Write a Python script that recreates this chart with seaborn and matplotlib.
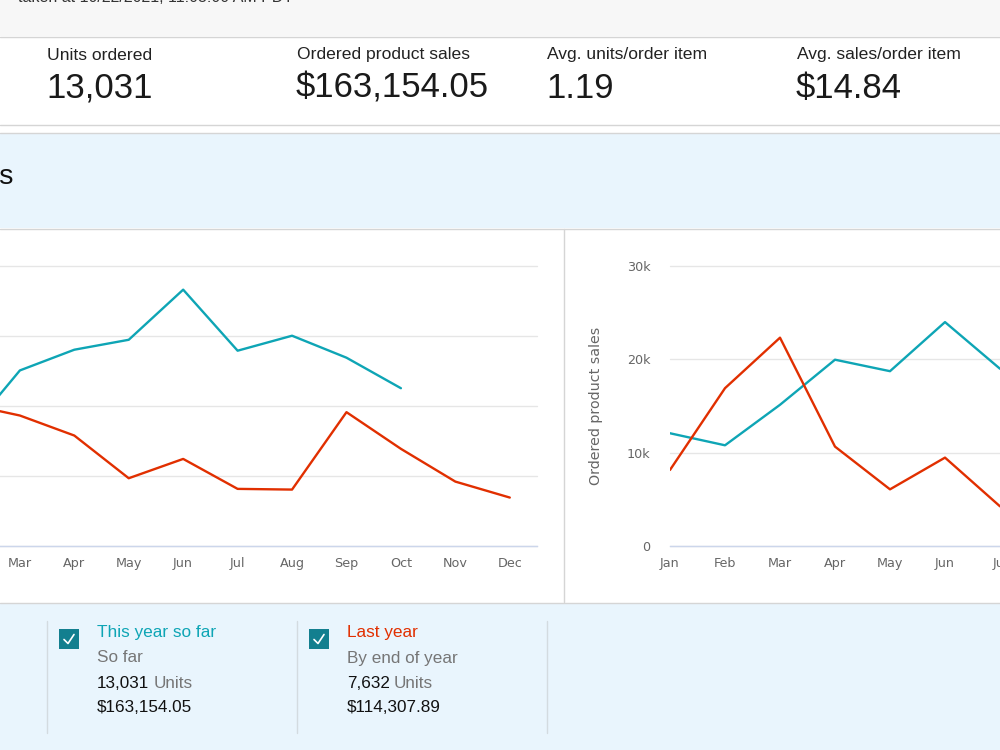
import numpy as np
import pandas as pd
import matplotlib
matplotlib.use("Agg")
import matplotlib.pyplot as plt
import seaborn as sns
from matplotlib.patches import Rectangle

# ---- data ----
months = ['Jan', 'Feb', 'Mar', 'Apr', 'May', 'Jun', 'Jul', 'Aug', 'Sep', 'Oct', 'Nov', 'Dec']

# left chart: units ordered per month
units_this_year = [916, 786, 1254, 1402, 1473, 1831, 1395, 1502, 1345, 1127]
units_last_year = [522, 1016, 932, 789, 484, 622, 408, 403, 956, 694, 460, 346]
units_ticks = [0, 500, 1000, 1500, 2000]

# right chart: ordered product sales per month (only Jan-Jul visible)
sales_this_year = [12080, 10790, 15130, 19960, 18730, 23990, 18990]
sales_last_year = [8150, 16910, 22320, 10650, 6070, 9470, 4250]
sales_ticks = [0, 10000, 20000, 30000]
sales_tick_labels = ['0', '10k', '20k', '30k']

metric_labels = ['Units ordered', 'Ordered product sales', 'Avg. units/order item', 'Avg. sales/order item']
metric_values = ['13,031', '$163,154.05', '1.19', '$14.84']

series_names = ['This year so far', 'Last year']
series_sub = ['So far', 'By end of year']
series_units = ['13,031', '7,632']
series_sales = ['$163,154.05', '$114,307.89']

TEAL = '#0ea5b5'
RED = '#e12f00'
palette = {'This year so far': TEAL, 'Last year': RED}

sns.set_theme(style="white")
plt.rcParams['font.family'] = ['Liberation Sans', 'DejaVu Sans']

fig = plt.figure(figsize=(10, 7.5), dpi=100)
fig.patch.set_facecolor('white')

# ---- page background (pixel coordinates) ----
bg = fig.add_axes([0, 0, 1, 1], zorder=0)
bg.set_xlim(0, 1000)
bg.set_ylim(750, 0)
bg.axis('off')

LINE = '#d5d5d5'
BLUE = '#e9f5fd'
bg.add_patch(Rectangle((0, 0), 1000, 36, color='#f7f7f7', lw=0))
bg.add_patch(Rectangle((0, 133), 1000, 95, color=BLUE, lw=0))
bg.add_patch(Rectangle((0, 603), 1000, 147, color=BLUE, lw=0))
for yy in [36.5, 124.5, 132.5, 228.5, 602.5]:
    bg.plot([0, 1000], [yy, yy], color=LINE, lw=1)
bg.plot([563.5, 563.5], [229, 602], color=LINE, lw=1)

# clipped header line at the very top
bg.text(18, 2.5, 'taken at 10/22/2021, 11:03:00 AM PDT', fontsize=11.5, color='#333333',
        va='baseline', ha='left')

# metric strip
for i, (lab, val) in enumerate(zip(metric_labels, metric_values)):
    x0 = 47 + 250 * i
    bg.text(x0, 55, lab, fontsize=12.6, color='#222222', va='center', ha='left')
    bg.text(x0 - 1, 88, val, fontsize=25, color='#1a1a1a', va='center', ha='left')

# cut-off section title
bg.text(13, 177, 'Compare Sales', fontsize=20.5, color='#111111', va='center', ha='right')

# legend blocks
for i in range(2):
    x0 = 46 + 250 * i
    bg.plot([x0 + 0.5, x0 + 0.5], [621, 733], color='#d3dbe0', lw=1)
    bg.add_patch(Rectangle((x0 + 13, 629), 20, 20, color='#137f8f', lw=0))
    bg.plot([x0 + 18, x0 + 22, x0 + 28], [639.5, 643.5, 634.5], color='white', lw=1.2)
    tx = x0 + 51
    bg.text(tx, 633, series_names[i], fontsize=12.4, color=[TEAL, RED][i], va='center')
    bg.text(tx, 658, series_sub[i], fontsize=12.3, color='#767676', va='center')
    t = bg.text(tx, 683, series_units[i], fontsize=12.3, color='#111111', va='center')
    bg.annotate('Units', xy=(1, 0.5), xycoords=t, xytext=(3, 0), textcoords='offset points',
                fontsize=12.3, color='#767676', va='center')
    bg.text(tx, 708, series_sales[i], fontsize=12.3, color='#111111', va='center')
bg.plot([546.5, 546.5], [621, 733], color='#d3dbe0', lw=1)


def style_chart(ax, ticks, labels, ymax):
    ax.set_facecolor('none')
    ax.set_xlim(0, 11.5)
    ax.set_ylim(0, ymax)
    ax.set_xticks(range(len(months)))
    ax.set_xticklabels(months, fontfamily='DejaVu Sans', fontsize=9.2, color='#666666')
    ax.set_yticks(ticks)
    ax.set_yticklabels(labels, fontfamily='DejaVu Sans', fontsize=9.2, color='#666666')
    ax.tick_params(axis='both', length=0)
    ax.tick_params(axis='x', pad=8)
    ax.tick_params(axis='y', pad=14)
    ax.grid(axis='y', color='#e6e6e6', lw=1)
    ax.grid(axis='x', visible=False)
    for gl in ax.get_ygridlines():
        gl.set_clip_on(False)
    for s in ['top', 'left', 'right']:
        ax.spines[s].set_visible(False)
    ax.spines['bottom'].set_color('#ccd6eb')
    ax.spines['bottom'].set_linewidth(1)
    ax.set_xlabel('')


def long_frame(this_year, last_year):
    return pd.concat([
        pd.DataFrame({'m': range(len(this_year)), 'v': this_year, 'series': 'This year so far'}),
        pd.DataFrame({'m': range(len(last_year)), 'v': last_year, 'series': 'Last year'}),
    ], ignore_index=True)


bottom = (750 - 546) / 750
height = 280 / 750

# ---- left chart: units ordered ----
ax1 = fig.add_axes([-89 / 1000, bottom, 626 / 1000, height], zorder=2)
sns.lineplot(data=long_frame(units_this_year, units_last_year), x='m', y='v', hue='series',
             palette=palette, errorbar=None, legend=False, lw=1.7, ax=ax1)
style_chart(ax1, units_ticks, [str(t) for t in units_ticks], 2000)
ax1.set_ylabel('Units ordered', fontfamily='DejaVu Sans', fontsize=10.3, color='#666666')

# ---- right chart: ordered product sales ----
ax2 = fig.add_axes([670 / 1000, bottom, 632.5 / 1000, height], zorder=2)
sns.lineplot(data=long_frame(sales_this_year, sales_last_year), x='m', y='v', hue='series',
             palette=palette, errorbar=None, legend=False, lw=1.7, ax=ax2)
style_chart(ax2, sales_ticks, sales_tick_labels, 30000)
ax2.set_ylabel('Ordered product sales', fontfamily='DejaVu Sans', fontsize=10.3, color='#666666')
ax2.yaxis.set_label_coords(-67 / 632.5, 0.5)

fig.savefig('out.png', dpi=100)
